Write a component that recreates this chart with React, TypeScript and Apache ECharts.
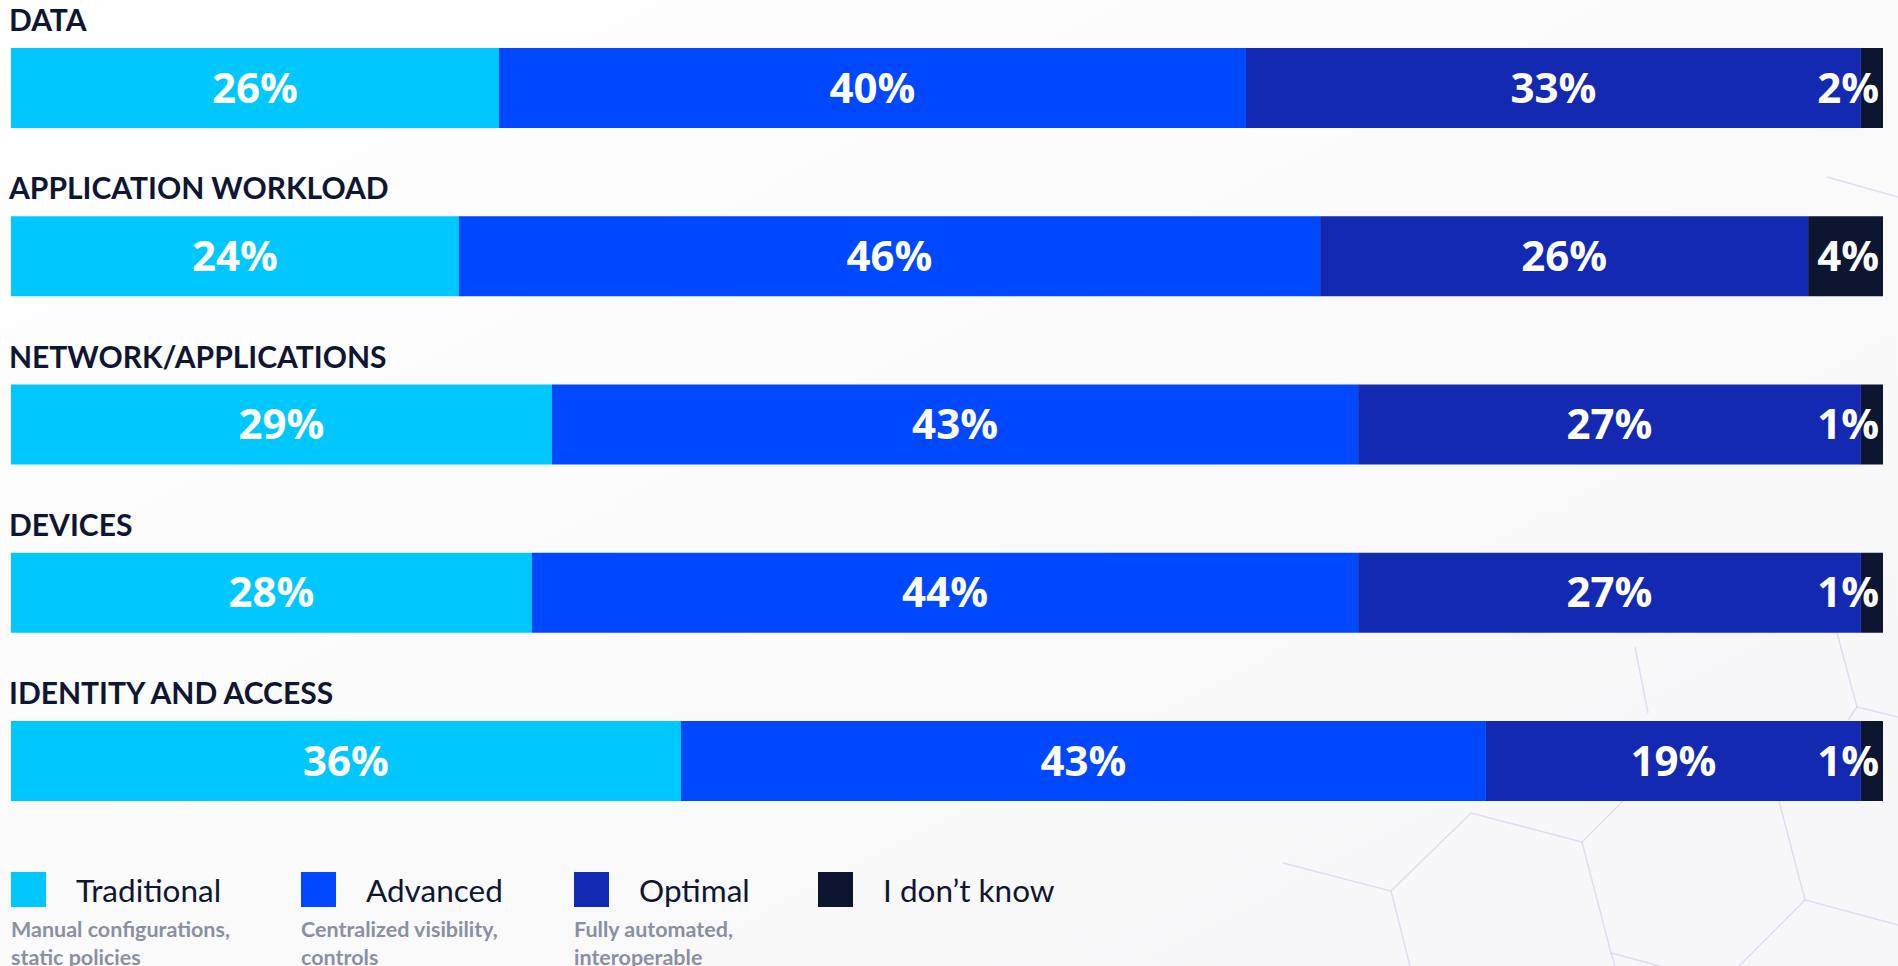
import React, { useEffect, useRef } from 'react';
import * as echarts from 'echarts';

// Row categories (top to bottom)
const categories = ['DATA', 'APPLICATION WORKLOAD', 'NETWORK/APPLICATIONS', 'DEVICES', 'IDENTITY AND ACCESS'];

// Segment shares as drawn (%)
const traditional = [26.07, 23.93, 28.9, 27.83, 35.79];
const advanced = [39.9, 46.0, 43.06, 44.13, 43.0];
const optimal = [32.85, 26.07, 26.86, 26.86, 20.03];
const dontKnow = [1.18, 4.0, 1.18, 1.18, 1.18];

// Printed percentages
const traditionalLabels = [26, 24, 29, 28, 36];
const advancedLabels = [40, 46, 43, 44, 43];
const optimalLabels = [33, 26, 27, 27, 19];
const dontKnowLabels = [2, 4, 1, 1, 1];

const seriesNames = ['Traditional', 'Advanced', 'Optimal', 'I don\u2019t know'];
const seriesSubtitles = ['Manual configurations,\nstatic policies', 'Centralized visibility,\ncontrols', 'Fully automated,\ninteroperable', ''];
const colors = ['#00c8ff', '#0048ff', '#1429b2', '#0d1530'];

export default function App() {
  const ref = useRef<HTMLDivElement>(null);

  useEffect(() => {
    document.body.style.margin = '0';
    const chart = echarts.init(ref.current!, null, { renderer: 'svg' });

    const valueSets = [traditional, advanced, optimal, dontKnow];
    const labelSets = [traditionalLabels, advancedLabels, optimalLabels, dontKnowLabels];

    const legendLefts = [11, 301, 574, 818];

    const hexColor = 'rgba(200, 184, 230, 0.45)';
    const hexLines: number[][][] = [
      [[1391, 891], [1471, 813], [1582, 842], [1611, 953], [1615, 966]],
      [[1283, 863], [1391, 891], [1410, 966]],
      [[1582, 842], [1624, 800]],
      [[1611, 953], [1660, 966]],
      [[1779, 801], [1805, 900], [1898, 925]],
      [[1805, 900], [1739, 966]],
      [[1837, 633], [1857, 707], [1898, 717]],
      [[1857, 707], [1848, 720]],
      [[1635, 647], [1648, 713]],
      [[1827, 177], [1898, 197]],
    ];

    const option: any = {
      animation: false,
      backgroundColor: new echarts.graphic.LinearGradient(0, 0, 1, 1, [
        { offset: 0, color: '#ffffff' },
        { offset: 1, color: '#f6f6f8' },
      ]),
      tooltip: { show: false },
      grid: {
        left: 11,
        right: 15,
        top: 3.875,
        bottom: 120.875,
        containLabel: false,
        outerBoundsMode: 'none',
      },
      xAxis: {
        type: 'value',
        min: 0,
        max: 100,
        show: false,
      },
      yAxis: {
        type: 'category',
        inverse: true,
        data: categories,
        axisLine: { show: false },
        axisTick: { show: false },
        splitLine: { show: false },
        axisLabel: {
          inside: true,
          margin: -2,
          align: 'left',
          verticalAlign: 'bottom',
          padding: [0, 0, 54, 0],
          lineHeight: 30,
          fontFamily: 'Lato',
          fontWeight: 'bold',
          fontSize: 30,
          color: '#0f1631',
        },
      },
      legend: seriesNames.map((n, i) => ({
        data: [n],
        left: legendLefts[i],
        top: 872,
        padding: 0,
        icon: 'rect',
        itemWidth: 35,
        itemHeight: 35,
        selectedMode: false,
        textStyle: {
          fontFamily: 'Lato',
          fontSize: 31.5,
          lineHeight: 20,
          color: '#0f1631',
          padding: [0, 0, 13, 25],
        },
      })),
      graphic: [
        ...seriesSubtitles
          .map((t, i) => ({
            type: 'text',
            left: legendLefts[i],
            top: 915,
            style: {
              text: t,
              fontFamily: 'Lato',
              fontWeight: 'bold',
              fontSize: 21.5,
              lineHeight: 28,
              fill: '#8b8fa2',
            },
          }))
          .filter((g) => g.style.text !== ''),
        ...hexLines.map((pts) => ({
          type: 'polyline',
          z: -10,
          silent: true,
          shape: { points: pts },
          style: { stroke: hexColor, lineWidth: 1.5, fill: null },
        })),
      ],
      series: seriesNames.map((name, i) => ({
        type: 'bar',
        name,
        stack: 'total',
        barWidth: 80,
        data: valueSets[i],
        itemStyle: { color: colors[i] },
        emphasis: { disabled: true },
        label: {
          show: true,
          position: i === 3 ? 'insideRight' : 'inside',
          distance: 4,
          offset: [0, -2],
          formatter: (p: any) => labelSets[i][p.dataIndex] + '%',
          color: '#ffffff',
          fontFamily: 'Open Sans',
          fontWeight: 'bold',
          fontSize: 42,
        },
        z: 2,
      })),
    };

    chart.setOption(option);
    return () => chart.dispose();
  }, []);

  return <div ref={ref} style={{ position: 'absolute', left: 0, top: 0, width: 1898, height: 966 }} />;
}
